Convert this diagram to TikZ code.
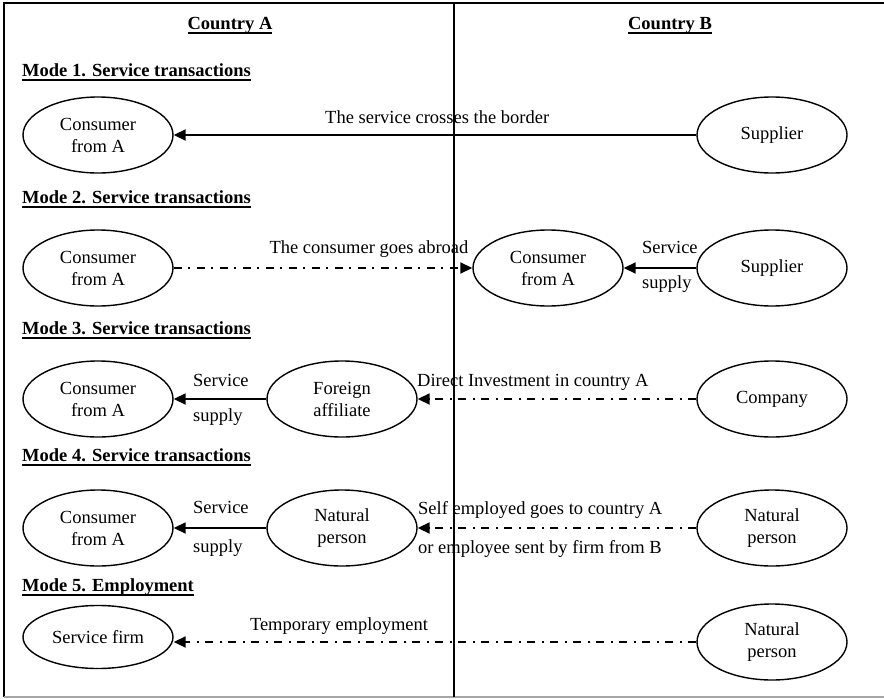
\documentclass[tikz,border=0pt]{standalone}
\usepackage{fontspec}
\setmainfont{Liberation Serif}
\usetikzlibrary{arrows.meta,shapes.geometric}

% underline drawn as a rule at a fixed depth under the baseline
\newcommand{\hdul}[1]{\setbox0=\hbox{#1}\rlap{\rule[-4.6pt]{\wd0}{1.8pt}}\box0}

\begin{document}
\begin{tikzpicture}[x=1pt,y=-1pt,
  every node/.style={font=\fontsize{18.5}{22}\selectfont},
  party/.style={draw, ellipse, line width=1.4pt, minimum width=150pt,
    minimum height=76pt, inner sep=0pt, align=center},
  heading/.style={anchor=base west, inner sep=0pt,
    font=\fontsize{18.5}{22}\selectfont\bfseries},
  country/.style={anchor=base, inner sep=0pt,
    font=\fontsize{18.5}{22}\selectfont\bfseries},
  lbl/.style={anchor=base west, inner sep=0pt},
  solidflow/.style={line width=1.8pt, -{Triangle[length=12pt,width=11pt]}},
  dashflow/.style={solidflow, dash pattern=on 8pt off 6pt on 2pt off 7pt},
  frame/.style={line width=1.6pt},
]
\useasboundingbox (0,0) rectangle (884,699);

% outer frame and the border between the two countries
\draw[frame] (4,697) -- (4,3) -- (884,3);
\draw[frame, gray!70] (4,697) -- (884,697);
\draw[line width=2pt] (454,3) -- (454,697);

% column and mode headings
\node[country] (hA) at (230,29) {\hdul{Country A}};
\node[country] (hB) at (670,29) {\hdul{Country B}};
\node[heading] (m1) at (22,76)  {\hdul{Mode 1. Service transactions}};
\node[heading] (m2) at (22,203) {\hdul{Mode 2. Service transactions}};
\node[heading] (m3) at (22,334) {\hdul{Mode 3. Service transactions}};
\node[heading] (m4) at (22,461) {\hdul{Mode 4. Service transactions}};
\node[heading] (m5) at (22,591) {\hdul{Mode 5. Employment}};

% Mode 1
\node[party] (c1) at (98,135)  {Consumer\\from A};
\node[party] (s1) at (772,135) {Supplier};
\draw[solidflow] (s1) -- (c1);
\node[lbl] (t1) at (325,123) {The service crosses the border};

% Mode 2
\node[party] (c2a) at (98,268)  {Consumer\\from A};
\node[party] (c2b) at (548,268) {Consumer\\from A};
\node[party] (s2)  at (772,268) {Supplier};
\draw[dashflow] (c2a) -- (c2b);
\draw[solidflow] (s2) -- (c2b);
\node[lbl, anchor=base] (t2) at (369,253) {The consumer goes abroad};
\node[lbl] (t2s) at (642,253) {Service};
\node[lbl] (t2p) at (642,288) {supply};

% Mode 3
\node[party] (c3) at (98,399)  {Consumer\\from A};
\node[party] (fa) at (342,399) {Foreign\\affiliate};
\node[party] (co) at (772,399) {Company};
\draw[solidflow] (fa) -- (c3);
\draw[dashflow] (co) -- (fa);
\node[lbl] (t3s) at (193,386) {Service};
\node[lbl] (t3p) at (193,421) {supply};
\node[lbl] (t3i) at (417,386) {Direct Investment in country A};

% Mode 4
\node[party] (c4)   at (98,528)  {Consumer\\from A};
\node[party] (np4a) at (342,528) {Natural\\person};
\node[party] (np4b) at (772,528) {Natural\\person};
\draw[solidflow] (np4a) -- (c4);
\draw[dashflow] (np4b) -- (np4a);
\node[lbl] (t4s) at (193,513) {Service};
\node[lbl] (t4p) at (193,552) {supply};
\node[lbl] (t4a) at (418,514) {Self employed goes to country A};
\node[lbl] (t4b) at (418,553) {or employee sent by firm from B};

% Mode 5
\node[party, minimum height=63pt] (sf) at (98,637) {Service firm};
\node[party] (np5) at (772,642) {Natural\\person};
\draw[dashflow] (np5.west) -- (np5.west -| sf.east);
\node[lbl, anchor=base] (t5) at (339,630) {Temporary employment};
\end{tikzpicture}
\end{document}
